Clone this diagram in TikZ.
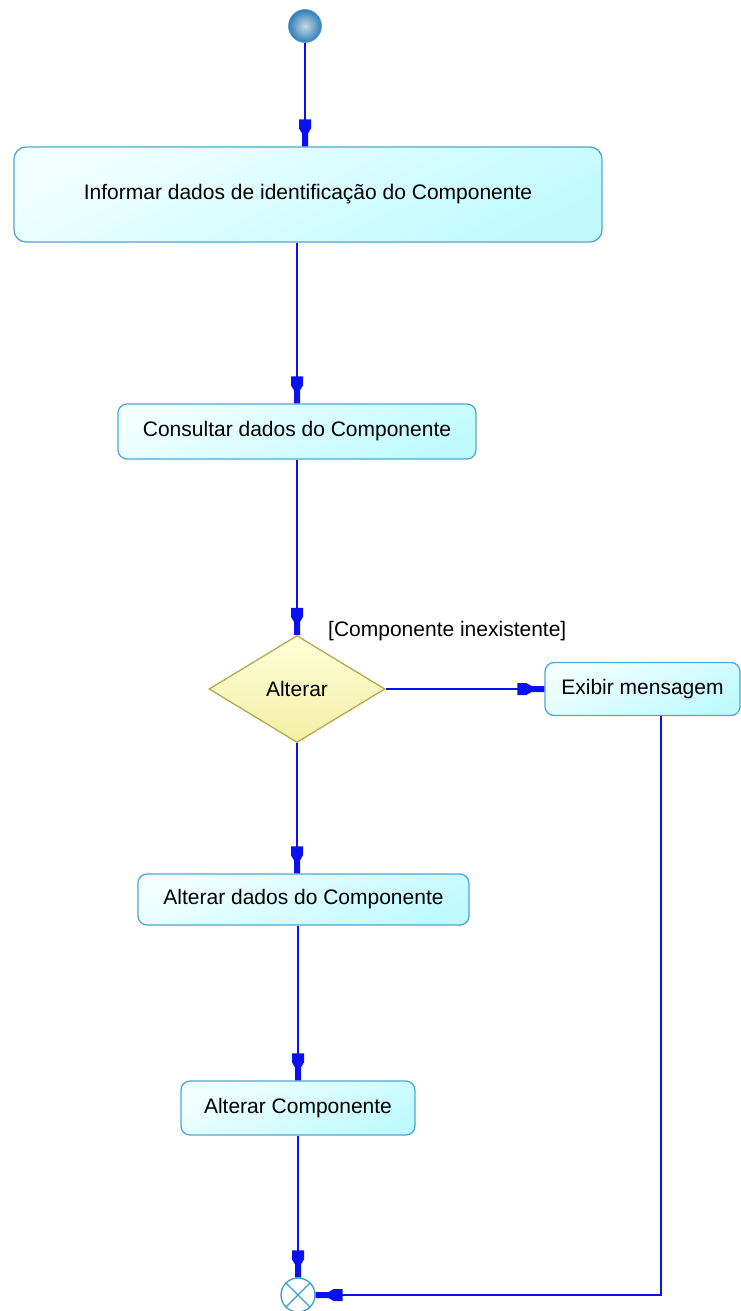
\documentclass[tikz,border=0pt]{standalone}
\usepackage{fontspec}
\setmainfont{Liberation Sans}
\usetikzlibrary{shapes.geometric,calc}
\definecolor{flow}{HTML}{0A10F0}
\definecolor{boxborder}{HTML}{4FA6D6}
\definecolor{boxlight}{HTML}{F2FFFF}
\definecolor{boxdark}{HTML}{BFFAFF}
\definecolor{diaborder}{HTML}{B5AA4A}
\definecolor{dialight}{HTML}{FFFFD8}
\definecolor{diadark}{HTML}{F2EFA6}
\definecolor{endborder}{HTML}{3AA0D0}
\definecolor{startin}{HTML}{C8D8E6}
\definecolor{startout}{HTML}{2F7FB8}
\pgfdeclarearrow{
  name=UMLtip,
  setup code={
    \pgfarrowssettipend{0pt}
    \pgfarrowssetlineend{-20pt}
    \pgfarrowssetbackend{-27pt}
    \pgfarrowssetvisualbackend{-27pt}
    \pgfarrowshullpoint{0pt}{3pt}
    \pgfarrowshullpoint{0pt}{-3pt}
    \pgfarrowshullpoint{-27pt}{6pt}
    \pgfarrowshullpoint{-27pt}{-6pt}
  },
  drawing code={
    \pgfpathmoveto{\pgfpoint{0pt}{3pt}}
    \pgfpathlineto{\pgfpoint{-13pt}{3pt}}
    \pgfpathlineto{\pgfpoint{-18pt}{6pt}}
    \pgfpathlineto{\pgfpoint{-27pt}{6pt}}
    \pgfpathlineto{\pgfpoint{-27pt}{-6pt}}
    \pgfpathlineto{\pgfpoint{-18pt}{-6pt}}
    \pgfpathlineto{\pgfpoint{-13pt}{-3pt}}
    \pgfpathlineto{\pgfpoint{0pt}{-3pt}}
    \pgfpathclose
    \pgfusepathqfill
  }
}
\tikzset{
  actbox/.style={rectangle, rounded corners=9pt, draw=boxborder, line width=1.3pt,
    top color=boxlight, bottom color=boxdark, shading angle=25,
    font=\fontsize{21}{25}\selectfont, inner sep=0pt},
  decbox/.style={diamond, draw=diaborder, line width=1.3pt,
    top color=dialight, bottom color=diadark,
    font=\fontsize{21}{25}\selectfont, inner sep=0pt},
  flowline/.style={draw=flow, line width=1.6pt},
  flowarrow/.style={flowline, -UMLtip},
  lbl/.style={font=\fontsize{21}{25}\selectfont, inner sep=0pt}
}
\begin{document}
\begin{tikzpicture}[x=1pt, y=-1pt]
\useasboundingbox (0,0) rectangle (741,1311);
% start
\node[circle, minimum size=33pt, inner sep=0pt, shading=radial,
      inner color=startin, outer color=startout, draw=startout!80, line width=0.6pt] (start) at (305,26) {};
% activities
\node[actbox, rounded corners=12pt, minimum width=588pt, minimum height=95pt] (b1) at (308,194.5)
  {Informar dados de identificação do Componente};
\node[actbox, minimum width=358pt, minimum height=55pt] (b2) at (297,431.5)
  {Consultar dados do Componente};
\node[decbox, minimum width=176pt, minimum height=107pt] (dec) at (297,689) {Alterar};
\node[actbox, minimum width=195pt, minimum height=53pt] (msg) at (642.5,689) {Exibir mensagem};
\node[actbox, minimum width=331pt, minimum height=51pt] (b3) at (303.5,899.5)
  {Alterar dados do Componente};
\node[actbox, minimum width=234pt, minimum height=54pt] (b4) at (298,1108)
  {Alterar Componente};
% end node
\node[circle, minimum size=34pt, inner sep=0pt, draw=endborder, fill=white, line width=1.3pt] (fin) at (298,1295) {};
\draw[draw=endborder, line width=1.1pt] (fin.north east) -- (fin.south west)
  (fin.north west) -- (fin.south east);
% guard label
\node[lbl, anchor=west] (guard) at (328,631) {[Componente inexistente]};
% connectors
\coordinate (corner) at (661,1295);
\draw[flowarrow] (start) -- (b1.north -| start);
\draw[flowarrow] (b1.south -| b2.north) -- (b2.north);
\draw[flowarrow] (b2.south -| dec.north) -- (dec.north);
\draw[flowarrow] (dec.east) -- (msg.west);
\draw[flowarrow] (dec.south) -- (b3.north -| dec.south);
\draw[flowarrow] (b3.south -| b4.north) -- (b4.north);
\draw[flowarrow] (b4.south) -- (fin.north);
\draw[flowarrow] (msg.south -| corner) -- (corner) -- (fin.east);
\end{tikzpicture}
\end{document}
